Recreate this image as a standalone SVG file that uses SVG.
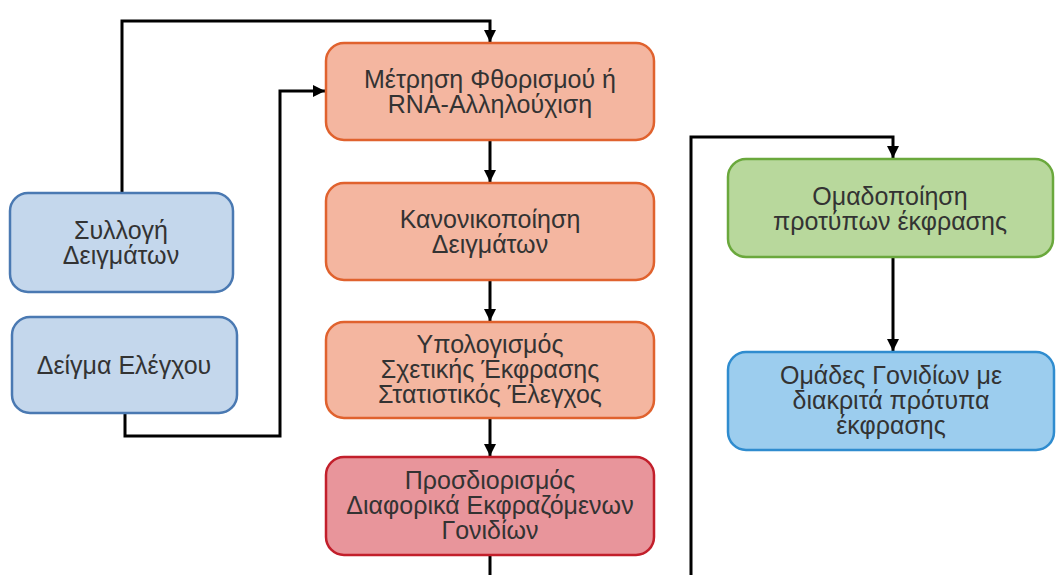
<svg xmlns="http://www.w3.org/2000/svg" width="1056" height="575" viewBox="0 0 1056 575">
<style>
.n rect{stroke-width:2.5}
.n text{font-family:"Liberation Sans",Arial,sans-serif;font-size:25px;fill:#333333;text-anchor:middle}
.or rect{fill:#f4b6a0;stroke:#e0622e}
.rd rect{fill:#e8959b;stroke:#c21f2b}
.bl rect{fill:#c4d7ec;stroke:#4a79b2}
.gr rect{fill:#b8d89c;stroke:#6aa83c}
.sb rect{fill:#9ccdee;stroke:#2f8ccf}
.c path{fill:none;stroke:#000;stroke-width:3}
</style>
<defs>
<marker id="ah" viewBox="0 0 10 10" refX="10" refY="5" markerWidth="4" markerHeight="4" orient="auto" markerUnits="strokeWidth">
<path d="M0,0 L10,5 L0,10 z" fill="#000"/>
</marker>
</defs>
<rect width="1056" height="575" fill="#ffffff"/>
<g class="c" id="connectors">
<path d="M122,193 V21 H490 V42" marker-end="url(#ah)"/>
<path d="M125,413 V436 H280 V91 H325" marker-end="url(#ah)"/>
<path d="M490,140 V182" marker-end="url(#ah)"/>
<path d="M490,280 V321" marker-end="url(#ah)"/>
<path d="M490,418 V456" marker-end="url(#ah)"/>
<path d="M490,555 V575"/>
<path d="M691,575 V137 H893 V158" marker-end="url(#ah)"/>
<path d="M893,257 V351" marker-end="url(#ah)"/>
</g>
<g id="n1" class="n or"><rect x="326" y="43" width="328" height="97" rx="18"/><text x="490" y="88">Μέτρηση Φθορισμού ή</text><text x="490" y="113">RNA-Αλληλούχιση</text></g>
<g id="n2" class="n or"><rect x="326" y="183" width="328" height="97" rx="18"/><text x="490" y="228">Κανονικοποίηση</text><text x="490" y="253">Δειγμάτων</text></g>
<g id="n3" class="n or"><rect x="326" y="322" width="328" height="96" rx="18"/><text x="490" y="353">Υπολογισμός</text><text x="490" y="378">Σχετικής Έκφρασης</text><text x="490" y="403">Στατιστικός Έλεγχος</text></g>
<g id="n4" class="n rd"><rect x="326" y="457" width="328" height="98" rx="18"/><text x="490" y="489">Προσδιορισμός</text><text x="490" y="514">Διαφορικά Εκφραζόμενων</text><text x="490" y="539">Γονιδίων</text></g>
<g id="n5" class="n bl"><rect x="10" y="193" width="223" height="99" rx="18"/><text x="121" y="239">Συλλογή</text><text x="121" y="264">Δειγμάτων</text></g>
<g id="n6" class="n bl"><rect x="12" y="317" width="225" height="96" rx="18"/><text x="124" y="374">Δείγμα Ελέγχου</text></g>
<g id="n7" class="n gr"><rect x="728" y="159" width="325" height="98" rx="18"/><text x="890" y="205">Ομαδοποίηση</text><text x="890" y="230">προτύπων έκφρασης</text></g>
<g id="n8" class="n sb"><rect x="728" y="352" width="326" height="98" rx="18"/><text x="891" y="384">Ομάδες Γονιδίων με</text><text x="891" y="409">διακριτά πρότυπα</text><text x="891" y="434">έκφρασης</text></g>
</svg>
